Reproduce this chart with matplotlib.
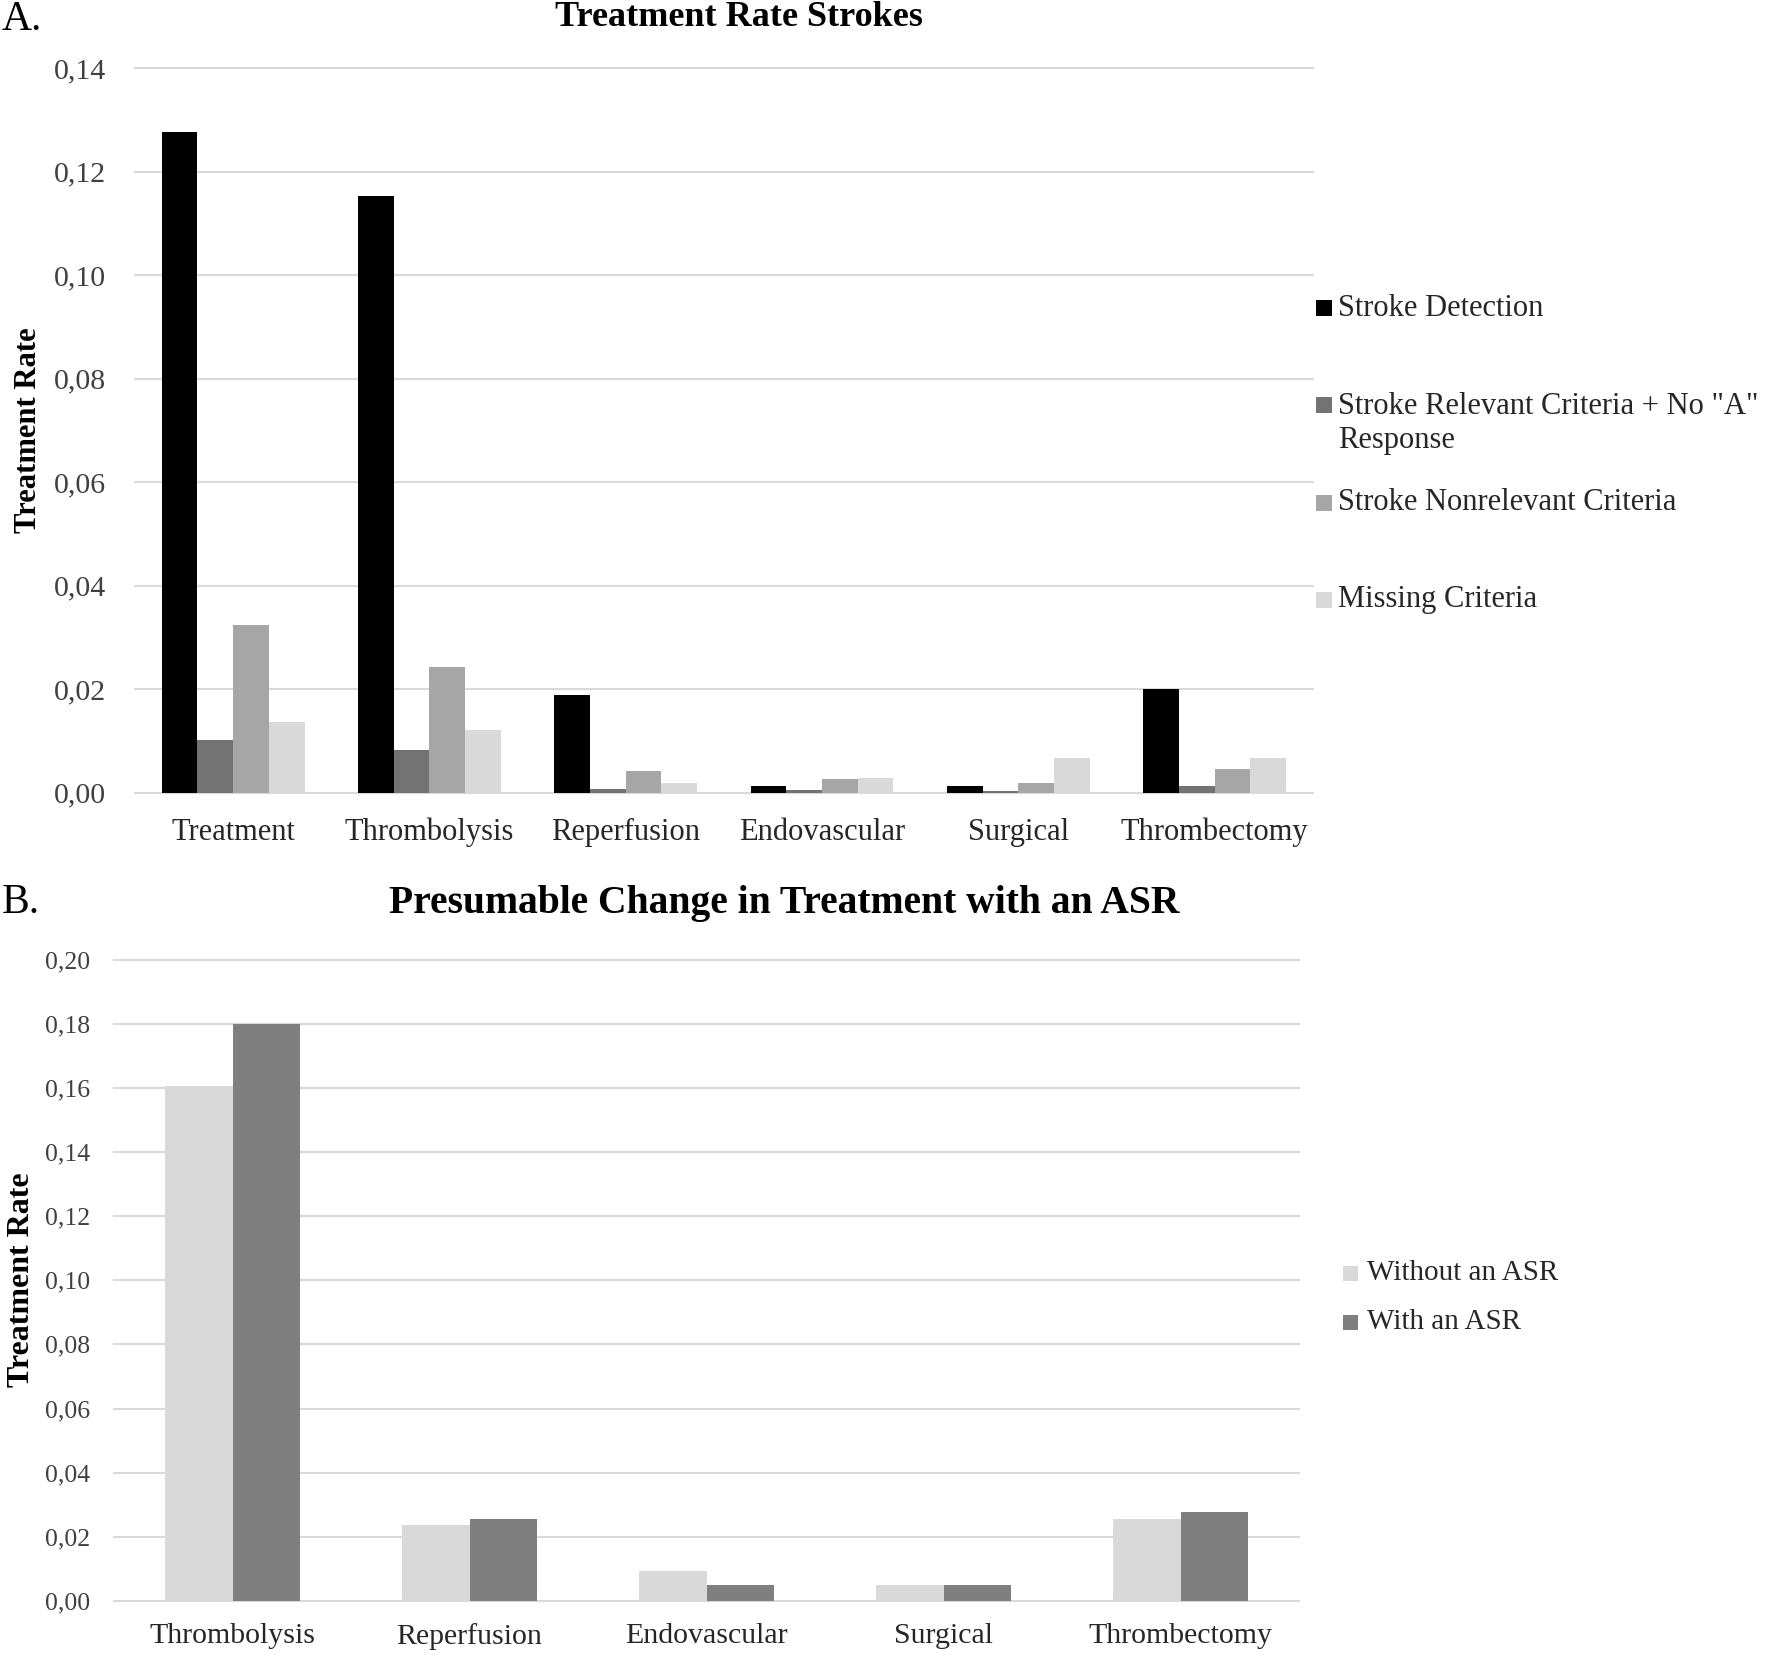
import numpy as np
import matplotlib
matplotlib.use("Agg")
import matplotlib.pyplot as plt
import matplotlib.ticker as ticker
from matplotlib.patches import Rectangle

plt.rcParams['font.family'] = ['Liberation Serif', 'DejaVu Serif']

# panel A data
cats_a = ["Treatment", "Thrombolysis", "Reperfusion", "Endovascular", "Surgical", "Thrombectomy"]
series_a = ["Stroke Detection", 'Stroke Relevant Criteria + No "A"\nResponse',
            "Stroke Nonrelevant Criteria", "Missing Criteria"]
detection = [0.1276, 0.1154, 0.0188, 0.0013, 0.0013, 0.0200]
relevant_no_a = [0.0102, 0.0083, 0.0008, 0.0005, 0.0003, 0.0013]
nonrelevant = [0.0324, 0.0243, 0.0042, 0.0026, 0.0019, 0.0046]
missing = [0.0136, 0.0122, 0.0019, 0.0029, 0.0068, 0.0068]
colors_a = ["#000000", "#737373", "#a6a6a6", "#d9d9d9"]

# panel B data
cats_b = ["Thrombolysis", "Reperfusion", "Endovascular", "Surgical", "Thrombectomy"]
series_b = ["Without an ASR", "With an ASR"]
without_asr = [0.1606, 0.0236, 0.0095, 0.0049, 0.0255]
with_asr = [0.1799, 0.0256, 0.0049, 0.0049, 0.0278]
colors_b = ["#d9d9d9", "#7f7f7f"]

W, H = 1770, 1655
fig = plt.figure(figsize=(W / 100, H / 100), dpi=100)


def px_rect(x0, y0, x1, y1):
    return [x0 / W, 1 - y1 / H, (x1 - x0) / W, (y1 - y0) / H]


comma = ticker.FuncFormatter(lambda v, p: ("%.2f" % v).replace(".", ","))


def style_axes(ax, ymax, ypad, yfs, xfs, xpad):
    ax.set_ylim(0, ymax)
    ax.set_yticks(np.arange(0, ymax + 1e-9, 0.02))
    ax.yaxis.set_major_formatter(comma)
    for s in ax.spines.values():
        s.set_visible(False)
    ax.tick_params(axis='both', length=0)
    ax.tick_params(axis='y', pad=ypad, labelsize=yfs, labelcolor='#404040')
    ax.tick_params(axis='x', pad=xpad, labelsize=xfs, labelcolor='#262626')
    ax.grid(axis='y', color='#d9d9d9', linewidth=1.5)
    ax.set_axisbelow(True)
    for gl in ax.get_ygridlines():
        gl.set_clip_on(False)


# ---- Panel A
axa = fig.add_axes(px_rect(135, 68.3, 1312.7, 792.7))
xa = np.arange(len(cats_a))
bw = 0.182
vals_a = [detection, relevant_no_a, nonrelevant, missing]
for i, (v, c) in enumerate(zip(vals_a, colors_a)):
    axa.bar(xa + (i - 1.5) * bw, v, width=bw, color=c, linewidth=0)
axa.set_xlim(-0.5, len(cats_a) - 0.5)
axa.set_xticks(xa)
axa.set_xticklabels(cats_a)
style_axes(axa, 0.14, 21, 21.5, 22, 18)
axa.set_ylabel("Treatment Rate", fontsize=22, fontweight='bold', va='center')

fig.text(739 / W, 1 - 17 / H, "Treatment Rate Strokes", ha='center', va='center',
         fontsize=26, fontweight='bold')
fig.text(2 / W, 1 - 20 / H, "A.", ha='left', va='center', fontsize=30)

# legend A, laid out by hand like the Excel original
leg_a_y = [308, 423.5, 503, 600]
leg_a_handle_y = [308, 405, 503, 600]
for lab, c, y, hy in zip(series_a, colors_a, leg_a_y, leg_a_handle_y):
    fig.patches.append(Rectangle((1316 / W, 1 - (hy + 8) / H), 16 / W, 16 / H,
                                 transform=fig.transFigure, color=c, linewidth=0))
    fig.text(1338 / W, 1 - y / H, lab, ha='left', va='center', fontsize=22,
             color='#262626', linespacing=1.2)

# ---- Panel B
axb = fig.add_axes(px_rect(114, 959.5, 1299, 1601))
xb = np.arange(len(cats_b))
bwb = 0.284
for i, (v, c) in enumerate(zip([without_asr, with_asr], colors_b)):
    axb.bar(xb + (i - 0.5) * bwb, v, width=bwb, color=c, linewidth=0)
axb.set_xlim(-0.5, len(cats_b) - 0.5)
axb.set_xticks(xb)
axb.set_xticklabels(cats_b)
style_axes(axb, 0.20, 17, 18.5, 21.5, 16)
axb.set_ylabel("Treatment Rate", fontsize=23, fontweight='bold', va='center')

fig.text(784 / W, 1 - 903 / H, "Presumable Change in Treatment with an ASR",
         ha='center', va='center', fontsize=28.5, fontweight='bold')
fig.text(2 / W, 1 - 903 / H, "B.", ha='left', va='center', fontsize=30)

for lab, c, y in zip(series_b, colors_b, [1273, 1322]):
    fig.patches.append(Rectangle((1343 / W, 1 - (y + 8) / H), 15 / W, 15 / H,
                                 transform=fig.transFigure, color=c, linewidth=0))
    fig.text(1367 / W, 1 - y / H, lab, ha='left', va='center', fontsize=21,
             color='#262626')

# y-label centres in figure pixels
axa.yaxis.set_label_coords(29 / W, 1 - 430 / H, transform=fig.transFigure)
axb.yaxis.set_label_coords(22 / W, 1 - 1280 / H, transform=fig.transFigure)

fig.savefig("out.png", dpi=100)
